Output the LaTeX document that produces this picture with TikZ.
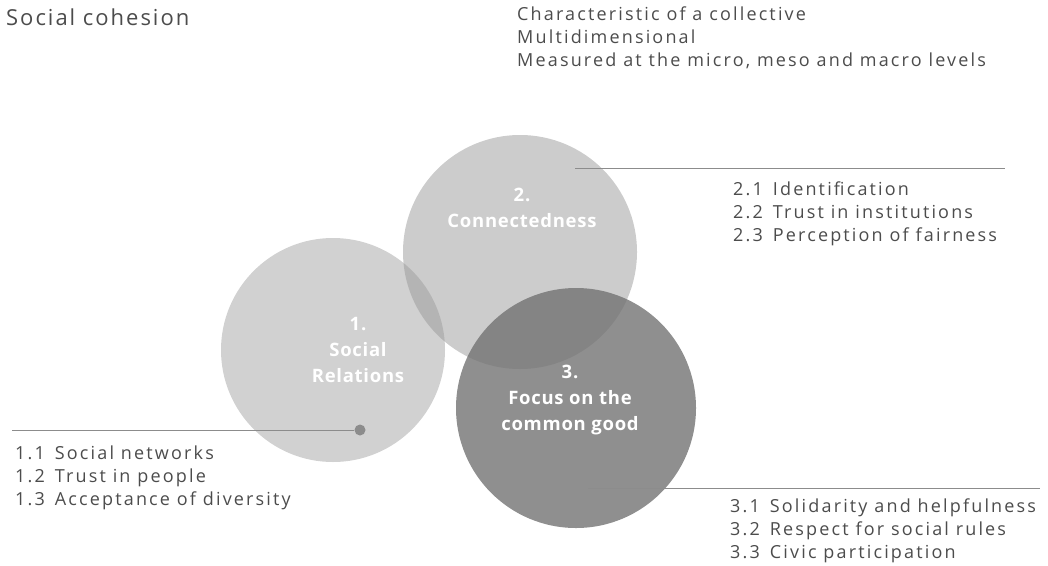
\documentclass[tikz,border=0pt]{standalone}
\usepackage{fontspec}
\setmainfont{Open Sans}
\newfontfamily\widefont[LetterSpace=9]{Open Sans}
\newfontfamily\listfont[LetterSpace=12]{Open Sans}
\newfontfamily\bubfont[LetterSpace=4]{Open Sans}
\usetikzlibrary{calc}
\definecolor{txtgray}{gray}{0.3}
\definecolor{linegray}{gray}{0.55}
\definecolor{bubA}{gray}{0.82}
\definecolor{bubB}{gray}{0.6}
\definecolor{bubC}{gray}{0.45}
\newcommand{\bubble}[6]{ \node[circle, minimum size=#4, inner sep=0pt, fill=#5, fill opacity=#6] (#1) at (#2,#3) {};}
\newcommand{\bubtext}[4]{ \node[text=white, font=\bubfont\bfseries\fontsize{18.5}{26}\selectfont, align=center] (#1) at (#2,#3) {#4};}
\newcommand{\dimlist}[4]{ \node[anchor=north west, inner sep=0pt, text=txtgray, font=\listfont\fontsize{18}{23}\selectfont, align=left] (#1) at (#2,#3) {#4};}

\begin{document}
\begin{tikzpicture}[x=1pt,y=-1pt]
\useasboundingbox (0,0) rectangle (1048,565);
%
\bubble{c1}{333}{350}{224pt}{bubA}{1}
\bubble{c2}{520}{252}{234pt}{bubB}{0.5}
\bubble{c3}{576}{408}{240pt}{bubC}{0.8}
%
\bubtext{t1}{358}{350}{1.\\Social\\Relations}
\bubtext{t2}{522}{208}{2.\\Connectedness}
\bubtext{t3}{570}{400}{3.\\Focus on the\\common good}
%
\node[circle, fill=linegray, inner sep=0pt, minimum size=11pt] (d1) at (360,430) {};
\coordinate (e1) at (12,430);
\coordinate (s2) at (575,168);
\coordinate (e2) at (1005,168);
\coordinate (s3) at (588,488);
\coordinate (e3) at (1040,488);
\draw[linegray, line width=0.8pt] (d1) -- (e1);
\draw[linegray, line width=0.8pt] (s2) -- (e2);
\draw[linegray, line width=0.8pt] (s3) -- (e3);
%
\node[anchor=north west, inner sep=0pt, text=txtgray, font=\widefont\fontsize{22}{26}\selectfont] (title) at (6,9) {Social cohesion};
\dimlist{about}{517}{7}{Characteristic of a collective\\Multidimensional\\Measured at the micro, meso and macro levels}
%
\dimlist{list2}{733}{182}{2.1\hspace{10pt}Identification\\2.2\hspace{10pt}Trust in institutions\\2.3\hspace{10pt}Perception of fairness}
\dimlist{list1}{15}{446}{1.1\hspace{10pt}Social networks\\1.2\hspace{10pt}Trust in people\\1.3\hspace{10pt}Acceptance of diversity}
\dimlist{list3}{730}{499}{3.1\hspace{10pt}Solidarity and helpfulness\\3.2\hspace{10pt}Respect for social rules\\3.3\hspace{10pt}Civic participation}

\end{tikzpicture}
\end{document}
